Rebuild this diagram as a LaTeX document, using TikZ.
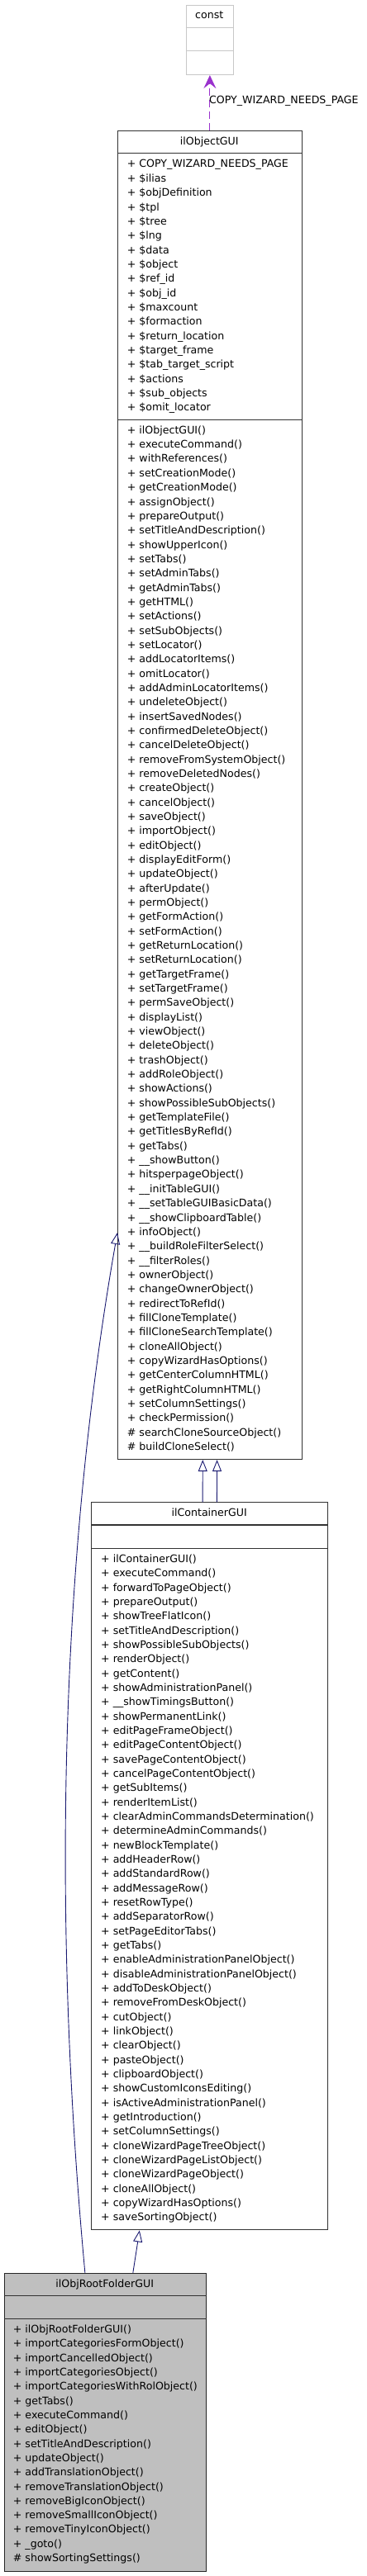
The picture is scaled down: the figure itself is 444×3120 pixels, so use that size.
\documentclass[tikz,border=0pt]{standalone}
\usepackage{fontspec}
\setmainfont{DejaVu Sans}
\usetikzlibrary{arrows.meta}
\definecolor{navy}{HTML}{191970}
\definecolor{orchid}{HTML}{9A32CD}
\definecolor{rootgray}{HTML}{BFBFBF}
\definecolor{constgray}{HTML}{C8C8C8}
\begin{document}
\begin{tikzpicture}[x=1pt,y=-1pt,
  txt/.style={font=\fontsize{12.6}{15}\selectfont, inner sep=0pt, text=black},
  item/.style={txt, anchor=base west},
  ttl/.style={txt, anchor=base},
  classbox/.style={draw=black!80, line width=1.1pt, fill=white, anchor=north west, inner sep=0pt},
  rootbox/.style={classbox, fill=rootgray, draw=black!85},
  constbox/.style={draw=constgray, line width=1.1pt, fill=white, anchor=north west, inner sep=0pt},
  sepline/.style={draw=black!80, line width=1.1pt},
  constsep/.style={draw=constgray, line width=1.1pt},
  inherit/.style={draw=navy, line width=0.9pt, -{Triangle[open, length=14pt, width=11pt, line width=0.9pt]}},
  usage/.style={draw=orchid, line width=1pt, dash pattern=on 9pt off 5pt, -{Stealth[length=16pt, width=15pt, inset=6pt]}}
]
\useasboundingbox (0,0) rectangle (444,3120);

% ---------- const ----------
\node[constbox, minimum width=57.3pt, minimum height=84.3pt] (const) at (224.7,5.7) {};
\draw[constsep] (const.west |- 0,33.7) -- (const.east |- 0,33.7);
\draw[constsep] (const.west |- 0,61.7) -- (const.east |- 0,61.7);
\node[ttl] (constT) at (253.3,23) {const};

% ---------- ilObjectGUI ----------
\node[classbox, minimum width=222.7pt, minimum height=1609pt] (obj) at (142,158) {};
\draw[sepline] (obj.west |- 0,185.7) -- (obj.east |- 0,185.7);
\draw[sepline] (obj.west |- 0,508.7) -- (obj.east |- 0,508.7);
\node[ttl] (objT) at (253.3,175.3) {ilObjectGUI};
\foreach \t [count=\i from 0] in {
 + COPY\_WIZARD\_NEEDS\_PAGE, + \$ilias, + \$objDefinition, + \$tpl, + \$tree, + \$lng, + \$data,
 + \$object, + \$ref\_id, + \$obj\_id, + \$maxcount, + \$formaction, + \$return\_location,
 + \$target\_frame, + \$tab\_target\_script, + \$actions, + \$sub\_objects, + \$omit\_locator}
  \node[item] (objA\i) at (153.7,203+\i*17.35) {\t};
\foreach \t [count=\i from 0] in {
 + ilObjectGUI(), + executeCommand(), + withReferences(), + setCreationMode(), + getCreationMode(),
 + assignObject(), + prepareOutput(), + setTitleAndDescription(), + showUpperIcon(), + setTabs(),
 + setAdminTabs(), + getAdminTabs(), + getHTML(), + setActions(), + setSubObjects(), + setLocator(),
 + addLocatorItems(), + omitLocator(), + addAdminLocatorItems(), + undeleteObject(),
 + insertSavedNodes(), + confirmedDeleteObject(), + cancelDeleteObject(), + removeFromSystemObject(),
 + removeDeletedNodes(), + createObject(), + cancelObject(), + saveObject(), + importObject(),
 + editObject(), + displayEditForm(), + updateObject(), + afterUpdate(), + permObject(),
 + getFormAction(), + setFormAction(), + getReturnLocation(), + setReturnLocation(),
 + getTargetFrame(), + setTargetFrame(), + permSaveObject(), + displayList(), + viewObject(),
 + deleteObject(), + trashObject(), + addRoleObject(), + showActions(), + showPossibleSubObjects(),
 + getTemplateFile(), + getTitlesByRefId(), + getTabs(), + \_\_showButton(), + hitsperpageObject(),
 + \_\_initTableGUI(), + \_\_setTableGUIBasicData(), + \_\_showClipboardTable(), + infoObject(),
 + \_\_buildRoleFilterSelect(), + \_\_filterRoles(), + ownerObject(), + changeOwnerObject(),
 + redirectToRefId(), + fillCloneTemplate(), + fillCloneSearchTemplate(), + cloneAllObject(),
 + copyWizardHasOptions(), + getCenterColumnHTML(), + getRightColumnHTML(), + setColumnSettings(),
 + checkPermission(), \# searchCloneSourceObject(), \# buildCloneSelect()}
  \node[item] (objM\i) at (153.7,525.3+\i*17.34) {\t};

% ---------- ilContainerGUI ----------
\node[classbox, minimum width=285.7pt, minimum height=881pt] (cont) at (110.3,1819.3) {};
\draw[sepline] (cont.west |- 0,1847) -- (cont.east |- 0,1847);
\draw[sepline] (cont.west |- 0,1875.3) -- (cont.east |- 0,1875.3);
\node[ttl] (contT) at (253.2,1836.8) {ilContainerGUI};
\foreach \t [count=\i from 0] in {
 + ilContainerGUI(), + executeCommand(), + forwardToPageObject(), + prepareOutput(),
 + showTreeFlatIcon(), + setTitleAndDescription(), + showPossibleSubObjects(), + renderObject(),
 + getContent(), + showAdministrationPanel(), + \_\_showTimingsButton(), + showPermanentLink(),
 + editPageFrameObject(), + editPageContentObject(), + savePageContentObject(),
 + cancelPageContentObject(), + getSubItems(), + renderItemList(),
 + clearAdminCommandsDetermination(), + determineAdminCommands(), + newBlockTemplate(),
 + addHeaderRow(), + addStandardRow(), + addMessageRow(), + resetRowType(), + addSeparatorRow(),
 + setPageEditorTabs(), + getTabs(), + enableAdministrationPanelObject(),
 + disableAdministrationPanelObject(), + addToDeskObject(), + removeFromDeskObject(),
 + cutObject(), + linkObject(), + clearObject(), + pasteObject(), + clipboardObject(),
 + showCustomIconsEditing(), + isActiveAdministrationPanel(), + getIntroduction(),
 + setColumnSettings(), + cloneWizardPageTreeObject(), + cloneWizardPageListObject(),
 + cloneWizardPageObject(), + cloneAllObject(), + copyWizardHasOptions(), + saveSortingObject()}
  \node[item] (contM\i) at (122,1892.6+\i*17.33) {\t};

% ---------- ilObjRootFolderGUI ----------
\node[rootbox, minimum width=244pt, minimum height=361.3pt] (root) at (4.7,2752.7) {};
\draw[sepline] (root.west |- 0,2780.3) -- (root.east |- 0,2780.3);
\draw[sepline] (root.west |- 0,2808.3) -- (root.east |- 0,2808.3);
\node[ttl] (rootT) at (126.7,2770) {ilObjRootFolderGUI};
\foreach \t [count=\i from 0] in {
 + ilObjRootFolderGUI(), + importCategoriesFormObject(), + importCancelledObject(),
 + importCategoriesObject(), + importCategoriesWithRolObject(), + getTabs(), + executeCommand(),
 + editObject(), + setTitleAndDescription(), + updateObject(), + addTranslationObject(),
 + removeTranslationObject(), + removeBigIconObject(), + removeSmallIconObject(),
 + removeTinyIconObject(), + \_goto(), \# showSortingSettings()}
  \node[item] (rootM\i) at (15.7,2825.6+\i*17.31) {\t};

% ---------- connectors ----------
\draw[usage] (obj.north -| const.south) -- (const.south);
\node[txt, anchor=west] (lbl) at (253,122.7) {COPY\_WIZARD\_NEEDS\_PAGE};

\draw[inherit] ([xshift=-8.6pt]cont.north) -- ([xshift=-8.6pt]obj.south);
\draw[inherit] ([xshift=8.7pt]cont.north) -- ([xshift=8.7pt]obj.south);
\draw[inherit] ([xshift=33.6pt]root.north) -- ([xshift=-84.9pt]cont.south);
\coordinate (objIn) at (obj.west |- 0,1493);
\draw[inherit] ([xshift=-24.4pt]root.north) .. controls (70,2400) and (62,1950) .. (objIn);
\end{tikzpicture}
\end{document}
